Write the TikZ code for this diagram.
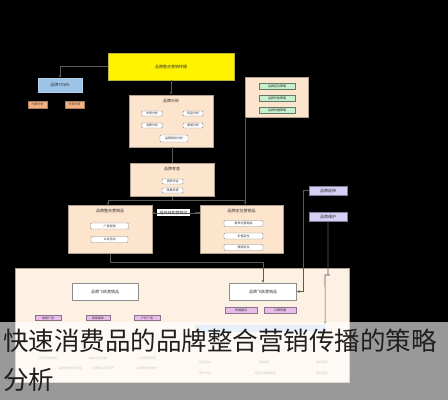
\documentclass[tikz,border=0pt]{standalone}
\usepackage{fontspec}
\newfontfamily\cjk{Noto Sans CJK SC}
\usetikzlibrary{positioning,arrows.meta}

\definecolor{peach}{HTML}{FCE4CD}
\definecolor{cream}{HTML}{FDF1E4}
\definecolor{wire}{HTML}{5A5A5A}
\definecolor{skyblue}{HTML}{9DC3E6}
\definecolor{tangerine}{HTML}{F4B183}
\definecolor{mint}{HTML}{C6EFCE}
\definecolor{lilac}{HTML}{D6CEF5}
\definecolor{rose}{HTML}{E8BCE8}

\tikzset{
  every node/.style={font=\cjk\fontsize{4}{5}\selectfont, inner sep=0pt, text=black!80},
  panel/.style={draw=peach!70!black, fill=peach, line width=0.5pt},
  tag/.style={draw=black!45, fill=white, rounded corners=1pt, line width=0.4pt},
  wirearrow/.style={draw=wire, line width=0.6pt, -{Stealth[length=3pt,width=2.5pt]}},
  wireline/.style={draw=wire, line width=0.6pt}
}

\begin{document}
\begin{tikzpicture}[x=1pt,y=-1pt]
  \fill[black] (0,0) rectangle (448,400);
  \useasboundingbox (0,0) rectangle (448,400);

  % top
  \node[fill=yellow, draw=yellow!70!black, minimum width=126pt, minimum height=27pt] (brand) at (171,66.5) {品牌整合营销传播};
  \node[fill=skyblue, draw=skyblue!80!white, minimum width=44pt, minimum height=14pt] (tows) at (60,85) {品牌TOWS};
  \node[fill=tangerine, draw=tangerine!70!black, minimum width=19pt, minimum height=7pt] (o1) at (37.5,104.5) {\fontsize{3}{3}\selectfont 内部分析};
  \node[fill=tangerine, draw=tangerine!70!black, minimum width=19pt, minimum height=7pt] (o2) at (74.5,104.5) {\fontsize{3}{3}\selectfont 外部分析};

  \node[panel, minimum width=84pt, minimum height=52pt] (analysis) at (171,121) {};
  \node[below=4pt of analysis.north] (analysist) {品牌分析};
  \node[tag, minimum width=21pt, minimum height=5pt] (a1) at (152,113.5) {\fontsize{3}{3}\selectfont 市场分析};
  \node[tag, minimum width=20pt, minimum height=5pt] (a2) at (193,113.5) {\fontsize{3}{3}\selectfont 竞品分析};
  \node[tag, minimum width=21pt, minimum height=5pt] (a3) at (152,125.5) {\fontsize{3}{3}\selectfont 消费分析};
  \node[tag, minimum width=20pt, minimum height=5pt] (a4) at (193,125.5) {\fontsize{3}{3}\selectfont 渠道分析};
  \node[tag, minimum width=28pt, minimum height=7pt] (a5) at (174,138.5) {\fontsize{3}{3}\selectfont 品牌现状分析};

  \node[panel, minimum width=63pt, minimum height=40pt] (green) at (277,97) {};
  \node[fill=mint, draw=mint!50!black, minimum width=36pt, minimum height=6pt] (g1) at (277,86) {\fontsize{3}{3}\selectfont 品牌定位策略};
  \node[fill=mint, draw=mint!50!black, minimum width=36pt, minimum height=6pt] (g2) at (277,98.5) {\fontsize{3}{3}\selectfont 品牌形象策略};
  \node[fill=mint, draw=mint!50!black, minimum width=36pt, minimum height=6pt] (g3) at (277,110) {\fontsize{3}{3}\selectfont 品牌传播策略};

  % middle
  \node[panel, minimum width=84pt, minimum height=33pt] (check) at (172,180) {};
  \node[below=4pt of check.north] (checkt) {品牌考查};
  \node[tag, minimum width=21pt, minimum height=5pt] (c1) at (172.5,181.5) {\fontsize{3}{3}\selectfont 调研评估};
  \node[tag, minimum width=21pt, minimum height=5pt] (c2) at (172.5,190.5) {\fontsize{3}{3}\selectfont 效果反馈};

  \node[fill=white, minimum width=33pt, minimum height=7pt] (org) at (173.5,212.5) {组织结构营销品};
  \coordinate (orgdot) at (196,212.5);

  \node[panel, minimum width=84pt, minimum height=48pt] (left) at (110,229.5) {};
  \node[below=4pt of left.north] (leftt) {品牌整合营销品};
  \node[tag, minimum width=38pt, minimum height=6pt] (l1) at (109.5,226) {\fontsize{3}{3}\selectfont 广告促销};
  \node[tag, minimum width=37pt, minimum height=6pt] (l2) at (109.5,239.5) {\fontsize{3}{3}\selectfont 公关活动};

  \node[panel, minimum width=83pt, minimum height=48pt] (right) at (241.5,229) {};
  \node[below=4pt of right.north] (rightt) {品牌定位营销品};
  \node[tag, minimum width=39pt, minimum height=6pt] (r1) at (243.5,223.5) {\fontsize{3}{3}\selectfont 差异化营销品};
  \node[tag, minimum width=39pt, minimum height=6pt] (r2) at (243.5,236) {\fontsize{3}{3}\selectfont 价值定位};
  \node[tag, minimum width=39pt, minimum height=6pt] (r3) at (243.5,247.5) {\fontsize{3}{3}\selectfont 情感定位};

  \node[fill=lilac, draw=lilac!60!black, minimum width=38pt, minimum height=9pt] (p1) at (328,190.5) {品牌延伸};
  \node[fill=lilac, draw=lilac!60!black, minimum width=38pt, minimum height=9pt] (p2) at (328,216.5) {品牌维护};

  % bottom
  \node[fill=cream, draw=peach!70!black, minimum width=334pt, minimum height=114pt] (base) at (182,325) {};
  \node[tag, rounded corners=0pt, minimum width=66pt, minimum height=17pt] (flyl) at (105,291.5) {品牌飞跃营销品};
  \node[tag, rounded corners=0pt, minimum width=67pt, minimum height=17pt] (flyr) at (263,291.5) {品牌飞跃营销品};
  \node[fill=rose, draw=rose!60!black, minimum width=32pt, minimum height=6pt] (k1) at (241,310) {\fontsize{3}{3}\selectfont 终端建设};
  \node[fill=rose, draw=rose!60!black, minimum width=32pt, minimum height=6pt] (k2) at (280,310) {\fontsize{3}{3}\selectfont 口碑传播};
  \node[fill=rose, draw=rose!60!black, minimum width=26pt, minimum height=5pt] (k3) at (48,318) {\fontsize{3}{3}\selectfont 电视广告};
  \node[fill=rose, draw=rose!60!black, minimum width=24pt, minimum height=5pt] (k4) at (98,318) {\fontsize{3}{3}\selectfont 网络媒体};
  \node[fill=rose, draw=rose!60!black, minimum width=26pt, minimum height=5pt] (k5) at (147,318) {\fontsize{3}{3}\selectfont 户外广告};
  \node[fill=skyblue!60!white, minimum width=130pt, minimum height=7pt] (bar) at (260,328) {};
  \node[text=black!50] (t1) at (48,358) {\fontsize{3}{3}\selectfont 品牌形象建设};
  \node[text=black!50] (t2) at (98,358) {\fontsize{3}{3}\selectfont 媒体组合投放};
  \node[text=black!50] (t3) at (147,358) {\fontsize{3}{3}\selectfont 广告创意表现};
  \node[text=black!50] (t4) at (70,368) {\fontsize{3}{3}\selectfont 品牌传播效果评估};
  \node[text=black!50] (t5) at (103,368) {\fontsize{3}{3}\selectfont 消费者认知调研};
  \node[text=black!50] (t6) at (147,368) {\fontsize{3}{3}\selectfont 品牌美誉度提升};
  \node[text=black!50] (t7) at (205,362) {\fontsize{3}{3}\selectfont 促销活动};
  \node[text=black!50] (t8) at (265,362) {\fontsize{3}{3}\selectfont 渠道推广};
  \node[text=black!50] (t9) at (322,362) {\fontsize{3}{3}\selectfont 会员服务};
  \node[text=black!50] (t10) at (205,373) {\fontsize{3}{3}\selectfont 客户关系};
  \node[text=black!50] (t11) at (265,373) {\fontsize{3}{3}\selectfont 品牌忠诚度管理};
  \node[text=black!50] (t12) at (322,373) {\fontsize{3}{3}\selectfont 售后服务};

  % connectors
  \draw[wirearrow] (brand.south) -- (analysis.north);
  \draw[wirearrow] (brand.west) -| (tows.north);
  \draw[wireline] (analysis.south -| check.north) -- (check.north);
  \draw[wireline] (check.south) -- ++(0,4) coordinate (split);
  \draw[wirearrow] (split) -| ([xshift=-2pt]left.north);
  \draw[wireline] (split) -| (245,201);
  \draw[wirearrow] (green.south west) -- (green.south west |- right.north);
  \draw[wireline, line width=0.4pt] (orgdot) -- (orgdot -| right.west);
  \fill[wire] (orgdot) circle (1pt);
  \draw[wirearrow] ([yshift=16pt]right.west) -- ([yshift=16pt]left.east |- right.west);
  \draw[wirearrow] (left.south) |- (263,262) -- (flyr.north);
  \draw[wirearrow] (p1.west) -- ++(-6,0) |- (flyr.east);
  \draw[wirearrow] (p2.south) |- (330,275) -- (325,275) -- (bar.north east);

  % caption band
  \fill[white, opacity=0.6] (0,322) rectangle (448,400);
  \node[anchor=west, font=\cjk\fontsize{25.5}{28}\selectfont, text=black!88] (cap1) at (3,341) {快速消费品的品牌整合营销传播的策略};
  \node[anchor=west, font=\cjk\fontsize{25.5}{28}\selectfont, text=black!88] (cap2) at (3,380) {分析};
\end{tikzpicture}
\end{document}
